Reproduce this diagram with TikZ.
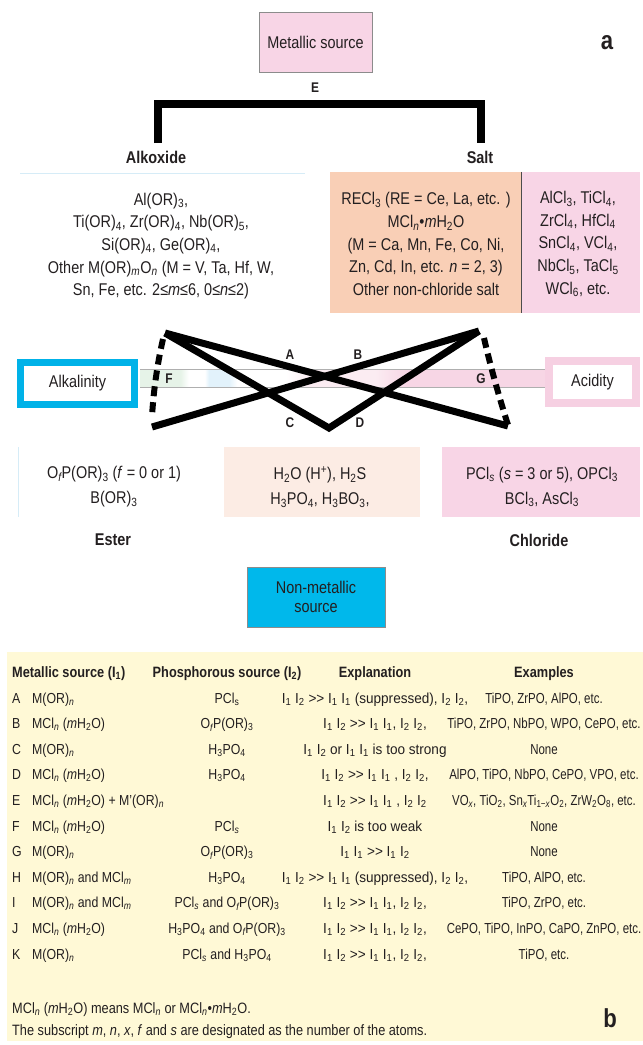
\documentclass[tikz,border=0pt]{standalone}
\usepackage{fontspec}
\setmainfont{Liberation Sans}[FakeStretch=0.85]
\definecolor{txt}{RGB}{35,31,32}
\definecolor{pinkbox}{RGB}{248,213,230}
\definecolor{orangebox}{RGB}{249,207,182}
\definecolor{peachbox}{RGB}{252,236,228}
\definecolor{cyanbox}{RGB}{0,184,235}
\definecolor{cyanborder}{RGB}{0,178,232}
\definecolor{pinkborder}{RGB}{246,208,226}
\definecolor{tableyellow}{RGB}{255,249,214}
\definecolor{lightblueline}{RGB}{214,236,247}
\definecolor{boxgray}{RGB}{140,140,140}
\definecolor{bandgray}{RGB}{175,175,175}
\definecolor{bgreen}{RGB}{230,243,232}
\definecolor{bblue}{RGB}{226,242,251}
\definecolor{bpinkl}{RGB}{251,236,242}
\definecolor{bpink}{RGB}{247,214,229}
\pgfdeclarehorizontalshading{bandshade}{100bp}{color(0bp)=(bgreen); color(25bp)=(bgreen); color(30bp)=(bgreen); color(31bp)=(white); color(33bp)=(white); color(33.5bp)=(bblue); color(36bp)=(bblue); color(37bp)=(white); color(43bp)=(white); color(46bp)=(bpinkl); color(54bp)=(bpinkl); color(58bp)=(bpink); color(75bp)=(bpink); color(100bp)=(bpink)}
\newcommand\lsub[1]{\textsubscript{#1}}
\newcommand\lisub[1]{\textsubscript{\itshape #1}}
\newcommand\Ione{I\lsub{1}}
\newcommand\Itwo{I\lsub{2}}
\newcommand\Mor{M(OR)\lisub{n}}
\newcommand\Mcl{MCl\lisub{n} (\textit{m}H\lsub{2}O)}
\newcommand\Hpo{H\lsub{3}PO\lsub{4}}
\newcommand\Ofp{O\lisub{f}P(OR)\lsub{3}}
\newcommand\Pcl{PCl\lisub{s}}
\newcommand\goodI{\Ione{} \Itwo{} >{}> \Ione{} \Ione, \Itwo{} \Itwo,}
\newcommand\supI{\Ione{} \Itwo{} >{}> \Ione{} \Ione{} (suppressed), \Itwo{} \Itwo,}
\newcommand\tabrow[7]{%
  \node[tab,anchor=base west] (#1l) at (12,#2) {#3};
  \node[tab,anchor=base west] (#1m) at (32,#2) {#4};
  \node[tab,anchor=base] (#1p) at (227,#2) {#5};
  \node[tab,anchor=base] (#1e) at (375,#2) {\scalebox{1.1}[1]{#6}};
  \node[tab,anchor=base] (#1x) at (544,#2) {\scalebox{0.93}[1]{#7}};}
\begin{document}
\begin{tikzpicture}[x=1pt,y=-1pt,
  every node/.style={inner sep=0pt,text=txt},
  body/.style={font=\fontsize{17}{22.6}\selectfont,align=center},
  body2/.style={font=\fontsize{17}{25}\selectfont,align=center},
  lab/.style={font=\fontsize{17}{20}\selectfont\bfseries},
  xlab/.style={font=\fontsize{14}{17}\selectfont\bfseries},
  big/.style={font=\fontsize{26}{30}\selectfont\bfseries},
  tab/.style={font=\fontsize{14.5}{17}\selectfont},
  tabh/.style={font=\fontsize{15}{17}\selectfont\bfseries},
  foot/.style={font=\fontsize{15}{17}\selectfont},
  srcbox/.style={draw=boxgray,line width=0.8pt,minimum width=#1,minimum height=60pt,font=\fontsize{17}{19}\selectfont,align=center},
  xline/.style={line width=7pt,line join=miter},
  dline/.style={line width=6pt,dash pattern=on 10pt off 6pt},
  bracket/.style={line width=8pt,line join=miter}]
\useasboundingbox (0,0) rectangle (643,1045);
\fill[white] (0,0) rectangle (643,1045);

% ---- part a ----
\node[srcbox=113pt,fill=pinkbox] (metal) at (315.5,42) {Metallic source};
\node[big] (la) at (607,43) {a};
\node[xlab] (E) at (315,88) {E};
\coordinate (brL) at (158,143);
\coordinate (brLt) at (158,104);
\coordinate (brRt) at (481,104);
\coordinate (brR) at (481,143);
\draw[bracket] (brL) -- (brLt) -- (brRt) -- (brR);
\node[lab] (alkoxide) at (156,157) {Alkoxide};
\node[lab] (salt) at (480,157) {Salt};

\draw[lightblueline,line width=1pt] (20,173) -- (305,173);
\node[body] (alktext) at (161,246) {Al(OR)\lsub{3},\\Ti(OR)\lsub{4}, Zr(OR)\lsub{4}, Nb(OR)\lsub{5},\\Si(OR)\lsub{4}, Ge(OR)\lsub{4},\\Other M(OR)\lisub{m}O\lisub{n} (M = V, Ta, Hf, W,\\Sn, Fe, etc. 2≤\textit{m}≤6, 0≤\textit{n}≤2)};
\node[fill=orangebox,minimum width=191pt,minimum height=141pt] (saltA) at (425.5,242.5) {};
\node[fill=pinkbox,minimum width=119pt,minimum height=141pt] (saltB) at (580.5,242.5) {};
\draw[line width=0.9pt,black!70] (saltA.north east) -- (saltA.south east);
\node[body] (salttextA) at (426,244) {RECl\lsub{3} (RE = Ce, La, etc. )\\MCl\lisub{n}•\textit{m}H\lsub{2}O\\(M = Ca, Mn, Fe, Co, Ni,\\Zn, Cd, In, etc. \textit{n} = 2, 3)\\Other non-chloride salt};
\node[body] (salttextB) at (578,244) {AlCl\lsub{3}, TiCl\lsub{4},\\ZrCl\lsub{4}, HfCl\lsub{4}\\SnCl\lsub{4}, VCl\lsub{4},\\NbCl\lsub{5}, TaCl\lsub{5}\\WCl\lsub{6}, etc.};

% band
\shade[shading=bandshade] (140,369) rectangle (545,387);
\draw[bandgray,line width=0.7pt] (140,369) -- (545,369) (140,387) -- (545,387);
\node[draw=cyanborder,line width=7pt,fill=white,minimum width=114pt,minimum height=42pt,font=\fontsize{17}{20}\selectfont] (alkal) at (77.5,383.5) {Alkalinity};
\node[draw=pinkborder,line width=8pt,fill=white,minimum width=87pt,minimum height=42pt,font=\fontsize{17}{20}\selectfont] (acid) at (592.5,382) {Acidity};

% X lines
\coordinate (tl) at (165,333);
\coordinate (tr) at (479,331);
\coordinate (bl) at (152,427);
\coordinate (br) at (508,426);
\coordinate (vb) at (329,428);
\coordinate (fT) at (163,339);
\coordinate (fB) at (152,418);
\coordinate (gT) at (484,338);
\coordinate (gB) at (508,425);
\draw[xline] (tl) -- (br);
\draw[xline] (tr) -- (bl);
\draw[xline] (tl) -- (vb) -- (tr);
\draw[dline] (fT) .. controls (157,365) and (153,395) .. (fB);
\draw[dline] (gT) .. controls (490,365) and (500,400) .. (gB);
\node[xlab] (A) at (290,355) {A};
\node[xlab] (B) at (358,355) {B};
\node[xlab] (C) at (290,423) {C};
\node[xlab] (D) at (360,423) {D};
\node[xlab] (F) at (169,379) {F};
\node[xlab] (G) at (481,379) {G};

% bottom boxes
\draw[lightblueline,line width=1pt] (18,447) -- (18,517);
\node[fill=peachbox,minimum width=196pt,minimum height=70pt] (midbox) at (322,482) {};
\node[fill=pinkbox,minimum width=198pt,minimum height=70pt] (chlbox) at (541,482) {};
\node[body2] (estertext) at (114,487) {\Ofp{} (\textit{f} = 0 or 1)\\B(OR)\lsub{3}};
\node[body2] (midtext) at (320,487) {H\lsub{2}O (H\textsuperscript{+}), H\lsub{2}S\\H\lsub{3}PO\lsub{4}, H\lsub{3}BO\lsub{3},};
\node[body2] (chltext) at (542,487) {PCl\lisub{s} (\textit{s} = 3 or 5), OPCl\lsub{3}\\BCl\lsub{3}, AsCl\lsub{3}};
\node[lab] (ester) at (113,540) {Ester};
\node[lab] (chloride) at (539,540) {Chloride};
\node[srcbox=138pt,fill=cyanbox] (nonmetal) at (316,597) {Non-metallic\\source};

% ---- part b: table ----
\fill[tableyellow] (7,652) rectangle (643,1041);
\node[tabh,anchor=base west] (h1) at (12,677) {Metallic source (I\lsub{1})};
\node[tabh,anchor=base] (h2) at (227,677) {Phosphorous source (I\lsub{2})};
\node[tabh,anchor=base] (h3) at (375,677) {Explanation};
\node[tabh,anchor=base] (h4) at (544,677) {Examples};
\tabrow{rA}{703}{A}{\Mor}{PCl\lsub{s}}{\supI}{TiPO, ZrPO, AlPO, etc.}
\tabrow{rB}{728.6}{B}{\Mcl}{\Ofp}{\goodI}{TiPO, ZrPO, NbPO, WPO, CePO, etc.}
\tabrow{rC}{754.2}{C}{\Mor}{\Hpo}{\Ione{} \Itwo{} or \Ione{} \Ione{} is too strong}{None}
\tabrow{rD}{779.8}{D}{\Mcl}{\Hpo}{\Ione{} \Itwo{} >{}> \Ione{} \Ione{} , \Itwo{} \Itwo,}{AlPO, TiPO, NbPO, CePO, VPO, etc.}
\tabrow{rE}{805.4}{E}{\Mcl{} + M'(OR)\lisub{n}}{}{\Ione{} \Itwo{} >{}> \Ione{} \Ione{} , \Itwo{} \Itwo}{VO\lisub{x}, TiO\lsub{2}, Sn\lisub{x}Ti\textsubscript{1−\textit{x}}O\lsub{2}, ZrW\lsub{2}O\lsub{8}, etc.}
\tabrow{rF}{831}{F}{\Mcl}{\Pcl}{\Ione{} \Itwo{} is too weak}{None}
\tabrow{rG}{856.6}{G}{\Mor}{\Ofp}{\Ione{} \Ione{} >{}> \Ione{} \Itwo}{None}
\tabrow{rH}{882.2}{H}{\Mor{} and MCl\lisub{m}}{\Hpo}{\supI}{TiPO, AlPO, etc.}
\tabrow{rI}{907.8}{I}{\Mor{} and MCl\lisub{m}}{\Pcl{} and \Ofp}{\goodI}{TiPO, ZrPO, etc.}
\tabrow{rJ}{933.4}{J}{\Mcl}{\Hpo{} and \Ofp}{\goodI}{CePO, TiPO, InPO, CaPO, ZnPO, etc.}
\tabrow{rK}{959}{K}{\Mor}{\Pcl{} and \Hpo}{\goodI}{TiPO, etc.}
\node[foot,anchor=base west] (fn1) at (12,1013) {MCl\lisub{n} (\textit{m}H\lsub{2}O) means MCl\lisub{n} or MCl\lisub{n}•\textit{m}H\lsub{2}O.};
\node[foot,anchor=base west] (fn2) at (12,1035) {The subscript \textit{m}, \textit{n}, \textit{x}, \textit{f} and \textit{s} are designated as the number of the atoms.};
\node[big] (lb) at (610,1018) {b};
\end{tikzpicture}
\end{document}
